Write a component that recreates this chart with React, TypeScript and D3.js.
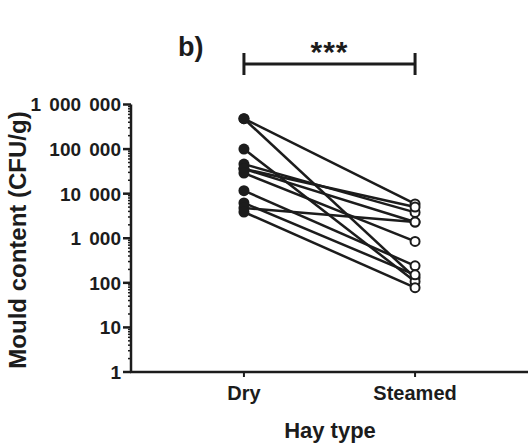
import React from "react";
import * as d3 from "d3";

const categories = ["Dry", "Steamed"];
const dryValues = [480000, 480000, 100000, 46000, 36000, 36000, 29000, 11700, 6200, 4770, 3880];
const steamedValues = [5870, 130, 107, 3800, 2310, 5000, 848, 241, 151, 2310, 78];
const yTicks = [1, 10, 100, 1000, 10000, 100000, 1000000];

const W = 530;
const H = 443;

export default function App() {
  const x = d3.scalePoint<string>().domain(categories).range([131, 528]).padding(0.66);
  const y = d3.scaleLog().domain([1, 1e6]).range([372, 104.5]);
  const fmt = (v: number) => d3.format(",")(v).replace(/,/g, " ");
  const minor: number[] = [];
  for (let e = 0; e < 6; e++) for (let k = 2; k <= 9; k++) minor.push(k * Math.pow(10, e));
  const x0 = x("Dry")!;
  const x1 = x("Steamed")!;
  const font = "'Liberation Sans', Arial, sans-serif";
  const ink = "#1c1c1c";
  return (
    <svg width={W} height={H} style={{ position: "absolute", left: 0, top: 0, background: "#fff" }} fontFamily={font}>
      <text x={178} y={56} fontSize={27} fontWeight="bold" fill={ink}>b)</text>
      {/* significance bar */}
      <line x1={x0} x2={x1} y1={64} y2={64} stroke={ink} strokeWidth={3} />
      <line x1={x0} x2={x0} y1={53} y2={75} stroke={ink} strokeWidth={3} />
      <line x1={x1} x2={x1} y1={53} y2={75} stroke={ink} strokeWidth={3} />
      <text x={(x0 + x1) / 2} y={62} fontSize={30} fontWeight="bold" textAnchor="middle" fill={ink} letterSpacing={1}>***</text>
      {/* y axis */}
      <line x1={131} x2={131} y1={y(1e6)} y2={y(1)} stroke={ink} strokeWidth={2.5} />
      {minor.map((v, i) => (
        <line key={"m" + i} x1={128} x2={131} y1={y(v)} y2={y(v)} stroke={ink} strokeWidth={1.5} />
      ))}
      {yTicks.map((v) => (
        <g key={v}>
          <line x1={123} x2={131} y1={y(v)} y2={y(v)} stroke={ink} strokeWidth={2.5} />
          <text x={121} y={y(v)} dy="0.36em" fontSize={19} fontWeight="bold" textAnchor="end" fill={ink} wordSpacing={3}>
            {fmt(v)}
          </text>
        </g>
      ))}
      {/* x axis */}
      <line x1={130} x2={528} y1={372} y2={372} stroke={ink} strokeWidth={2.5} />
      {categories.map((c) => (
        <g key={c}>
          <line x1={x(c)!} x2={x(c)!} y1={372} y2={377} stroke={ink} strokeWidth={2} />
          <text x={x(c)!} y={400} fontSize={20} fontWeight="bold" textAnchor="middle" fill={ink}>{c}</text>
        </g>
      ))}
      <text x={330} y={438} fontSize={22} fontWeight="bold" textAnchor="middle" fill={ink}>Hay type</text>
      <text transform={`translate(26,240) rotate(-90)`} fontSize={24} fontWeight="bold" textAnchor="middle" fill={ink}>
        Mould content (CFU/g)
      </text>
      {/* paired lines */}
      {dryValues.map((d, i) => (
        <line key={"l" + i} x1={x0} y1={y(d)} x2={x1} y2={y(steamedValues[i])} stroke={ink} strokeWidth={2.5} />
      ))}
      {dryValues.map((d, i) => (
        <circle key={"d" + i} cx={x0} cy={y(d)} r={5.5} fill={ink} />
      ))}
      {steamedValues.map((s, i) => (
        <circle key={"s" + i} cx={x1} cy={y(s)} r={4.5} fill="#fff" stroke={ink} strokeWidth={2} />
      ))}
    </svg>
  );
}
